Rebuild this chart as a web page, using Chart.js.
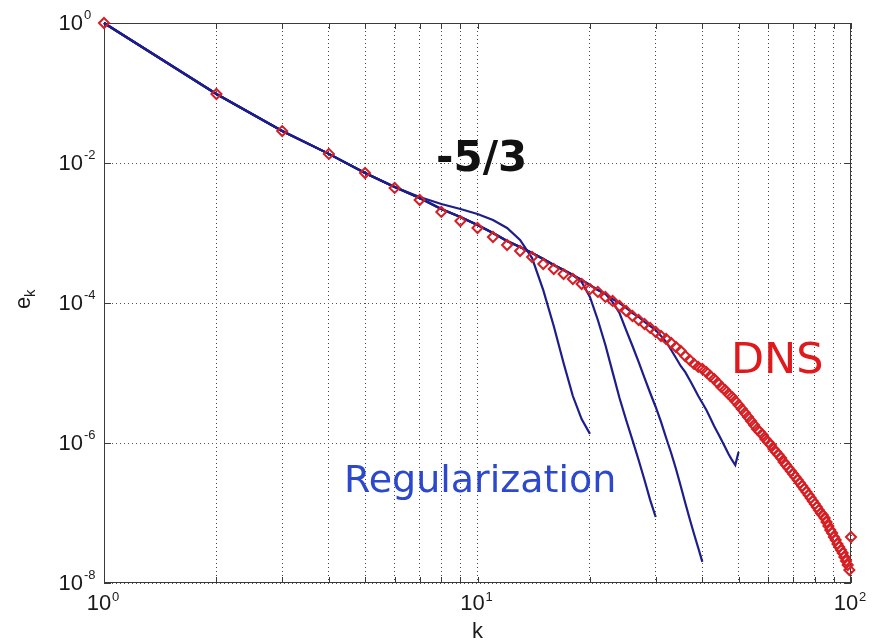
<!DOCTYPE html>
<html>
<head>
<meta charset="utf-8">
<title>Energy spectrum e_k</title>
<script src="https://cdn.jsdelivr.net/npm/chart.js@4.4.0/dist/chart.umd.min.js"></script>
<style>
  html, body { margin: 0; padding: 0; background: #fff; }
  canvas { display: block; }
</style>
</head>
<body>
<canvas id="grafico" width="875" height="641"></canvas>
<script>
// wavenumbers
const kValues = [
  1, 2, 3, 4, 5, 6, 7, 8, 9, 10,
  11, 12, 13, 14, 15, 16, 17, 18, 19, 20,
  21, 22, 23, 24, 25, 26, 27, 28, 29, 30,
  31, 32, 33, 34, 35, 36, 37, 38, 39, 40,
  41, 42, 43, 44, 45, 46, 47, 48, 49, 50,
  51, 52, 53, 54, 55, 56, 57, 58, 59, 60,
  61, 62, 63, 64, 65, 66, 67, 68, 69, 70,
  71, 72, 73, 74, 75, 76, 77, 78, 79, 80,
  81, 82, 83, 84, 85, 86, 87, 88, 89, 90,
  91, 92, 93, 94, 95, 96, 97, 98, 99, 100
];

// DNS spectrum (red diamonds)
const dnsEnergy = [
  1.0, 9.68e-2, 2.86e-2, 1.35e-2, 7.20e-3, 4.40e-3, 2.96e-3, 2.00e-3, 1.48e-3, 1.18e-3,
  8.77e-4, 6.74e-4, 5.53e-4, 4.54e-4, 3.61e-4, 3.06e-4, 2.59e-4, 2.20e-4, 1.87e-4, 1.58e-4,
  1.44e-4, 1.22e-4, 1.07e-4, 9.06e-5, 7.69e-5, 6.52e-5, 5.72e-5, 5.01e-5, 4.40e-5, 3.85e-5,
  3.38e-5, 3.06e-5, 2.68e-5, 2.35e-5, 2.06e-5, 1.75e-5, 1.53e-5, 1.35e-5, 1.22e-5, 1.14e-5,
  1.03e-5, 9.06e-6, 8.21e-6, 7.20e-6, 6.31e-6, 5.72e-6, 5.01e-6, 4.54e-6, 3.98e-6, 3.49e-6,
  3.06e-6, 2.68e-6, 2.35e-6, 2.06e-6, 1.81e-6, 1.58e-6, 1.44e-6, 1.30e-6, 1.14e-6, 1.03e-6,
  9.36e-7, 8.21e-7, 7.43e-7, 6.74e-7, 6.11e-7, 5.36e-7, 4.85e-7, 4.40e-7, 3.98e-7, 3.61e-7,
  3.27e-7, 2.96e-7, 2.68e-7, 2.43e-7, 2.20e-7, 2.00e-7, 1.81e-7, 1.64e-7, 1.48e-7, 1.35e-7,
  1.22e-7, 1.10e-7, 1.00e-7, 9.36e-8, 8.49e-8, 7.43e-8, 6.52e-8, 5.72e-8, 5.18e-8, 4.54e-8,
  4.11e-8, 3.61e-8, 3.27e-8, 2.96e-8, 2.68e-8, 2.35e-8, 2.06e-8, 1.81e-8, 1.53e-8, 4.54e-8
];

// regularized runs, cut off at k = 20, 30, 40, 50 (blue lines)
const regN20 = [
  1.0, 9.68e-2, 2.86e-2, 1.35e-2, 7.20e-3, 4.54e-3, 3.27e-3, 2.60e-3, 2.20e-3, 1.87e-3,
  1.53e-3, 1.18e-3, 7.94e-4, 4.39e-4, 1.53e-4, 4.69e-5, 1.39e-5, 4.69e-6, 2.20e-6, 1.35e-6
];
const regN30 = [
  1.0, 9.68e-2, 2.86e-2, 1.35e-2, 7.20e-3, 4.54e-3, 3.16e-3, 2.20e-3, 1.69e-3, 1.30e-3,
  1.00e-3, 7.69e-4, 6.31e-4, 5.18e-4, 4.25e-4, 3.49e-4, 2.96e-4, 2.51e-4, 2.00e-4, 1.22e-4,
  5.72e-5, 2.51e-5, 1.03e-5, 4.39e-6, 2.13e-6, 1.10e-6, 5.72e-7, 2.96e-7, 1.53e-7, 8.77e-8
];
const regN40 = [
  1.0, 9.68e-2, 2.86e-2, 1.35e-2, 7.20e-3, 4.54e-3, 3.16e-3, 2.20e-3, 1.69e-3, 1.30e-3,
  1.00e-3, 7.69e-4, 6.31e-4, 5.18e-4, 4.25e-4, 3.49e-4, 2.96e-4, 2.51e-4, 2.13e-4, 1.81e-4,
  1.53e-4, 1.35e-4, 1.03e-4, 7.20e-5, 4.11e-5, 2.43e-5, 1.44e-5, 8.49e-6, 5.18e-6, 3.27e-6,
  2.00e-6, 1.18e-6, 7.20e-7, 4.25e-7, 2.43e-7, 1.39e-7, 8.21e-8, 5.01e-8, 3.16e-8, 2.00e-8
];
const regN50 = [
  1.0, 9.68e-2, 2.86e-2, 1.35e-2, 7.20e-3, 4.54e-3, 3.16e-3, 2.20e-3, 1.69e-3, 1.30e-3,
  1.00e-3, 7.69e-4, 6.31e-4, 5.18e-4, 4.25e-4, 3.49e-4, 2.96e-4, 2.51e-4, 2.13e-4, 1.81e-4,
  1.53e-4, 1.35e-4, 1.14e-4, 1.00e-4, 8.49e-5, 7.20e-5, 6.31e-5, 5.36e-5, 4.69e-5, 4.11e-5,
  3.38e-5, 2.77e-5, 2.13e-5, 1.64e-5, 1.26e-5, 1.03e-5, 7.94e-6, 6.11e-6, 4.69e-6, 3.73e-6,
  2.96e-6, 2.28e-6, 1.75e-6, 1.39e-6, 1.10e-6, 8.77e-7, 6.97e-7, 5.72e-7, 4.85e-7, 7.43e-7
];

// axes
const xGrid = [1, 2, 3, 4, 5, 6, 7, 8, 9, 10, 20, 30, 40, 50, 60, 70, 80, 90, 100];
const xLabelValues = [1, 10, 100];
const xLabelExps = ['0', '1', '2'];
const yTicks = [1e-8, 1e-6, 1e-4, 1e-2, 1];
const yLabelExps = ['-8', '-6', '-4', '-2', '0'];

const fonteEixo = '"Liberation Sans", Arial, sans-serif';
const fonteTexto = '"DejaVu Sans", Verdana, sans-serif';

function pontos(valores) {
    return valores.map((v, i) => ({ x: kValues[i], y: v }));
}

function linhaAzul(valores) {
    return {
        data: pontos(valores),
        borderColor: '#1d1d8c',
        borderWidth: 2.2,
        pointRadius: 0,
        tension: 0,
        clip: false,
        order: 1
    };
}

// box, inward ticks, tick labels and annotations
const decoracao = {
    id: 'decoracao',
    beforeDatasetsDraw(chart) {
        const { ctx, chartArea: a, scales } = chart;
        ctx.save();
        ctx.strokeStyle = '#3a3a3a';
        ctx.lineWidth = 1;
        ctx.beginPath();
        xGrid.forEach(v => {
            const px = Math.round(scales.x.getPixelForValue(v)) + 0.5;
            ctx.moveTo(px, a.bottom); ctx.lineTo(px, a.bottom - 6);
            ctx.moveTo(px, a.top); ctx.lineTo(px, a.top + 6);
        });
        yTicks.forEach(v => {
            const py = Math.round(scales.y.getPixelForValue(v)) + 0.5;
            ctx.moveTo(a.left, py); ctx.lineTo(a.left + 7, py);
            ctx.moveTo(a.right, py); ctx.lineTo(a.right - 7, py);
        });
        ctx.stroke();
        ctx.strokeRect(Math.round(a.left) + 0.5, Math.round(a.top) + 0.5,
            Math.round(a.right - a.left) - 1, Math.round(a.bottom - a.top) - 1);
        ctx.restore();
    },
    afterDraw(chart) {
        const { ctx, chartArea: a, scales } = chart;
        ctx.save();
        ctx.fillStyle = '#1a1a1a';

        // y tick labels 10^n
        yTicks.forEach((v, i) => {
            const py = scales.y.getPixelForValue(v);
            ctx.font = '22px ' + fonteEixo;
            ctx.textAlign = 'right';
            ctx.textBaseline = 'middle';
            ctx.fillText('10', a.left - 21, py + 1);
            ctx.font = '13px ' + fonteEixo;
            ctx.textAlign = 'left';
            ctx.textBaseline = 'alphabetic';
            ctx.fillText(yLabelExps[i], a.left - 20, py - 4);
        });

        // x tick labels 10^n
        xLabelValues.forEach((v, i) => {
            const px = scales.x.getPixelForValue(v);
            ctx.font = '22px ' + fonteEixo;
            ctx.textAlign = 'center';
            ctx.textBaseline = 'middle';
            ctx.fillText('10', px - 5, a.bottom + 21);
            ctx.font = '13px ' + fonteEixo;
            ctx.textAlign = 'left';
            ctx.textBaseline = 'alphabetic';
            ctx.fillText(xLabelExps[i], px + 8, a.bottom + 18);
        });

        // axis titles
        ctx.font = '22px ' + fonteEixo;
        ctx.textAlign = 'center';
        ctx.textBaseline = 'alphabetic';
        ctx.fillText('k', (a.left + a.right) / 2, a.bottom + 55);

        ctx.save();
        ctx.translate(30, (a.top + a.bottom) / 2 + 6);
        ctx.rotate(-Math.PI / 2);
        ctx.font = '22px ' + fonteEixo;
        ctx.textAlign = 'left';
        ctx.fillText('e', 0, 0);
        ctx.font = '15px ' + fonteEixo;
        ctx.fillText('k', 12, 5);
        ctx.restore();

        // annotations
        ctx.textAlign = 'left';
        ctx.textBaseline = 'alphabetic';
        ctx.font = 'bold 42px ' + fonteTexto;
        ctx.fillStyle = '#111';
        ctx.fillText('-5/3', 436, 171);

        ctx.font = '43px ' + fonteTexto;
        ctx.fillStyle = '#e0191c';
        ctx.fillText('DNS', 731, 373);

        ctx.font = '38px ' + fonteTexto;
        ctx.fillStyle = '#2c48cc';
        ctx.fillText('Regularization', 344, 492);
        ctx.restore();
    }
};

new Chart(document.getElementById('grafico').getContext('2d'), {
    type: 'line',
    data: {
        datasets: [
            {
                data: pontos(dnsEnergy),
                showLine: false,
                pointStyle: 'rectRot',
                pointRadius: 5,
                pointBorderWidth: 2,
                pointBorderColor: '#d61f24',
                pointBackgroundColor: 'rgba(255,255,255,0)',
                clip: false,
                order: 0
            },
            linhaAzul(regN20),
            linhaAzul(regN30),
            linhaAzul(regN40),
            linhaAzul(regN50)
        ]
    },
    options: {
        responsive: false,
        animation: false,
        devicePixelRatio: 1,
        events: [],
        layout: { padding: { top: 23, right: 24, left: 0, bottom: 0 } },
        plugins: { legend: { display: false }, tooltip: { enabled: false } },
        scales: {
            x: {
                type: 'logarithmic',
                min: 1,
                max: 100,
                afterBuildTicks: s => { s.ticks = xGrid.map(v => ({ value: v })); },
                afterFit: s => { s.height = 58; },
                ticks: { display: false },
                grid: { color: '#444', lineWidth: 1, drawTicks: false },
                border: { display: false, dash: [1, 3] }
            },
            y: {
                type: 'logarithmic',
                min: 1e-8,
                max: 1,
                afterBuildTicks: s => { s.ticks = yTicks.map(v => ({ value: v })); },
                afterFit: s => { s.width = 104; },
                ticks: { display: false },
                grid: { color: '#555', lineWidth: 1, drawTicks: false },
                border: { display: false, dash: [1, 3] }
            }
        }
    },
    plugins: [decoracao]
});
</script>
</body>
</html>
